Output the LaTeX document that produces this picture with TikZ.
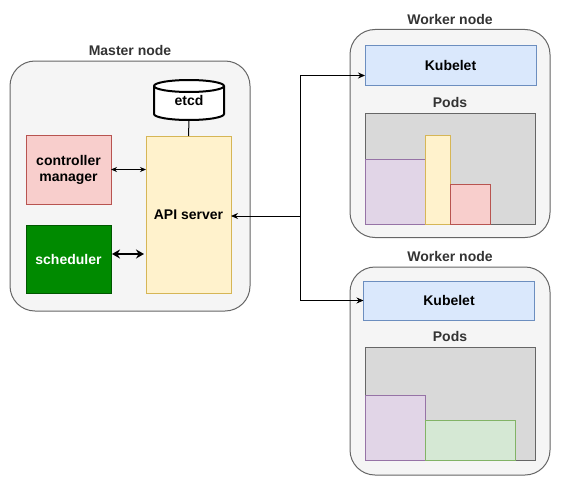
\documentclass[tikz,border=0pt]{standalone}
\usepackage{fontspec}
\setmainfont{Liberation Sans}
\usetikzlibrary{arrows.meta,positioning}
\definecolor{hostfill}{HTML}{F5F5F5}
\definecolor{hostline}{HTML}{666666}
\definecolor{titlegray}{HTML}{333333}
\definecolor{apifill}{HTML}{FFF2CC}
\definecolor{apiline}{HTML}{D6B656}
\definecolor{ctrlfill}{HTML}{F8CECC}
\definecolor{ctrlline}{HTML}{B85450}
\definecolor{schedfill}{HTML}{008A00}
\definecolor{schedline}{HTML}{005700}
\definecolor{kubfill}{HTML}{DAE8FC}
\definecolor{kubline}{HTML}{6C8EBF}
\definecolor{podsfill}{HTML}{D9D9D9}
\definecolor{purfill}{HTML}{E1D5E7}
\definecolor{purline}{HTML}{9673A6}
\definecolor{grnfill}{HTML}{D5E8D4}
\definecolor{grnline}{HTML}{82B366}
\begin{document}
\begin{tikzpicture}[x=1pt,y=1pt,line width=1pt,
  every node/.style={font=\fontsize{14}{16}\selectfont\bfseries,inner sep=0pt,outer sep=0pt},
  hostbox/.style={draw=hostline,fill=hostfill,rounded corners=25pt},
  title/.style={text=titlegray,label distance=5pt},
  procbox/.style={draw,align=center},
  pod/.style={draw,anchor=south west},
  link/.style={-{Stealth[length=7pt,width=6pt]}},
  biglink/.style={{Stealth[length=8pt,width=9pt]}-{Stealth[length=8pt,width=9pt]},line width=2.2pt}]
\useasboundingbox (0,0) rectangle (561,-487);
% master node
\node[hostbox,minimum width=240pt,minimum height=250pt,label={[title]above:Master node}] (master) at (130,-186) {};
\draw[line width=2pt,fill=white] (154,-86) -- (154,-114) arc[start angle=180,end angle=360,x radius=35pt,y radius=6pt] -- (224,-86) arc[start angle=0,end angle=180,x radius=35pt,y radius=6pt] -- cycle;
\draw[line width=2pt] (154,-86) arc[start angle=180,end angle=360,x radius=35pt,y radius=6pt];
\node[minimum width=70pt,minimum height=40pt] (etcd) at (189,-100) {etcd};
\node[procbox,fill=apifill,draw=apiline,minimum width=85pt,minimum height=157pt] (api) at (188.5,-214.5) {API server};
\node[procbox,fill=ctrlfill,draw=ctrlline,minimum width=85pt,minimum height=69pt] (ctrl) at (68.5,-169.5) {controller\\manager};
\node[procbox,fill=schedfill,draw=schedline,text=white,minimum width=85pt,minimum height=68pt] (sched) at (68.5,-259) {scheduler};
\draw (etcd.south) -- (api.north);
\draw[{Stealth[length=6pt,width=5pt]}-{Stealth[length=6pt,width=5pt]}] (ctrl.east) -- (ctrl.east -| api.west);
\draw[biglink] ([xshift=1pt,yshift=5pt]sched.east) -- ([xshift=-2pt,yshift=5pt]sched.east -| api.west);
% worker nodes
\foreach \i/\y/\ky/\kx/\py/\ph in {1/-133.5/-65.5/450.5/-168.5/111, 2/-371/-300.5/449/-403.5/113} {
  \node[hostbox,minimum width=200pt,minimum height=208pt,label={[title]above:Worker node}] (worker\i) at (450,\y) {};
  \node[procbox,fill=kubfill,draw=kubline,minimum width=171pt,minimum height=39pt] (kubelet\i) at (\kx,\ky) {Kubelet};
  \node[draw=hostline,fill=podsfill,minimum width=170pt,minimum height=\ph pt,label={[title]above:Pods}] (pods\i) at (450,\py) {};
}
% pods
\node[pod,fill=purfill,draw=purline,minimum width=60pt,minimum height=65pt] (podA) at (pods1.south west) {};
\node[pod,fill=apifill,draw=apiline,minimum width=25pt,minimum height=89pt] (podB) at (podA.south east) {};
\node[pod,fill=ctrlfill,draw=ctrlline,minimum width=40pt,minimum height=40pt] (podC) at (podB.south east) {};
\node[pod,fill=purfill,draw=purline,minimum width=60pt,minimum height=65pt] (podD) at (pods2.south west) {};
\node[pod,fill=grnfill,draw=grnline,minimum width=90pt,minimum height=40pt] (podE) at (podD.south east) {};
% api links
\coordinate (hub) at (300,-216);
\draw[link] (hub) -- (api.east |- hub);
\draw[link] (hub) |- ([yshift=-10pt]kubelet1.west);
\draw[link] (hub) |- (kubelet2.west);
\end{tikzpicture}
\end{document}
